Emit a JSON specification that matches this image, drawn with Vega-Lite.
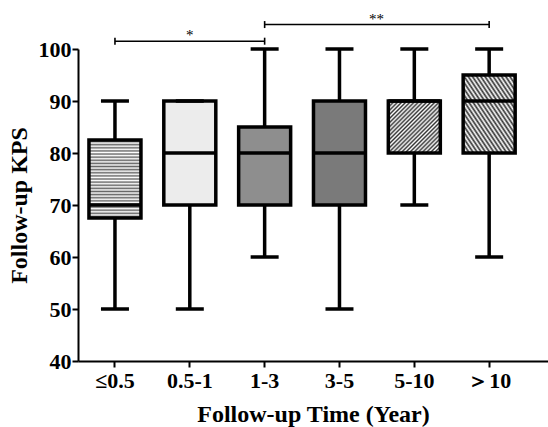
{
  "$schema": "https://vega.github.io/schema/vega-lite/v6.json",
  "width": 470,
  "height": 312,
  "autosize": {"type": "none"},
  "padding": {"left": 78, "top": 49, "right": 0, "bottom": 66},
  "background": "white",
  "config": {"view": {"stroke": null}, "font": "Liberation Serif"},
  "datasets": {
    "boxes": [
      {"cat": "≤0.5", "min": 50, "q1": 67.5, "median": 70, "q3": 82.5, "max": 90},
      {"cat": "0.5-1", "min": 50, "q1": 70, "median": 80, "q3": 90, "max": 90},
      {"cat": "1-3", "min": 60, "q1": 70, "median": 80, "q3": 85, "max": 100},
      {"cat": "3-5", "min": 50, "q1": 70, "median": 80, "q3": 90, "max": 100},
      {"cat": "5-10", "min": 70, "q1": 80, "median": 90, "q3": 90, "max": 100},
      {"cat": "＞10", "min": 60, "q1": 80, "median": 90, "q3": 95, "max": 100}
    ],
    "brackets": [
      {"from": "≤0.5", "to": "1-3", "y": 101.5, "label": "*"},
      {"from": "1-3", "to": "＞10", "y": 104.7, "label": "**"}
    ]
  },
  "layer": [
    {
      "data": {"name": "boxes"},
      "mark": {"type": "rule", "color": "black", "strokeWidth": 3.5},
      "encoding": {
        "x": {
          "field": "cat", "type": "nominal",
          "scale": {"domain": ["≤0.5", "0.5-1", "1-3", "3-5", "5-10", "＞10"], "paddingInner": 0.3, "paddingOuter": 0.29, "align": 0.248},
          "axis": {
            "title": "Follow-up Time (Year)", "labelAngle": 0,
            "labelFont": "Liberation Serif", "labelFontSize": 22, "labelFontWeight": "bold", "labelColor": "black", "labelPadding": 3,
            "titleFont": "Liberation Serif", "titleFontSize": 24, "titleFontWeight": "bold", "titleColor": "black", "titlePadding": 11,
            "tickSize": 6, "tickWidth": 2, "tickColor": "black", "domainWidth": 2, "domainColor": "black", "grid": false
          }
        },
        "y": {
          "field": "min", "type": "quantitative",
          "scale": {"domain": [40, 100], "nice": false, "zero": false},
          "axis": {
            "title": "Follow-up KPS", "values": [40, 50, 60, 70, 80, 90, 100],
            "labelFont": "Liberation Serif", "labelFontSize": 22, "labelFontWeight": "bold", "labelColor": "black", "labelPadding": 1,
            "titleFont": "Liberation Serif", "titleFontSize": 24, "titleFontWeight": "bold", "titleColor": "black", "titlePadding": 7,
            "tickSize": 6, "tickWidth": 2, "tickColor": "black", "domainWidth": 2, "domainColor": "black", "grid": false
          }
        },
        "y2": {"field": "max"}
      }
    },
    {
      "data": {"name": "boxes"},
      "mark": {"type": "bar", "size": 52, "stroke": "black", "strokeWidth": 3.5, "opacity": 1},
      "encoding": {
        "x": {"field": "cat", "type": "nominal"},
        "y": {"field": "q1", "type": "quantitative"},
        "y2": {"field": "q3"},
        "fill": {
          "condition": [
            {"test": "datum.cat === '≤0.5'", "value": {"gradient": "linear", "x1": 0, "y1": 0, "x2": 0, "y2": 1, "stops": [
              {"offset": 0, "color": "#fff"}, {"offset": 0.02, "color": "#666"}, {"offset": 0.04, "color": "#fff"}, {"offset": 0.06, "color": "#666"}, {"offset": 0.08, "color": "#fff"}, {"offset": 0.1, "color": "#666"}, {"offset": 0.12, "color": "#fff"}, {"offset": 0.14, "color": "#666"}, {"offset": 0.16, "color": "#fff"}, {"offset": 0.18, "color": "#666"}, {"offset": 0.2, "color": "#fff"}, {"offset": 0.22, "color": "#666"}, {"offset": 0.24, "color": "#fff"}, {"offset": 0.26, "color": "#666"}, {"offset": 0.28, "color": "#fff"}, {"offset": 0.3, "color": "#666"}, {"offset": 0.32, "color": "#fff"}, {"offset": 0.34, "color": "#666"}, {"offset": 0.36, "color": "#fff"}, {"offset": 0.38, "color": "#666"}, {"offset": 0.4, "color": "#fff"}, {"offset": 0.42, "color": "#666"}, {"offset": 0.44, "color": "#fff"}, {"offset": 0.46, "color": "#666"}, {"offset": 0.48, "color": "#fff"}, {"offset": 0.5, "color": "#666"}, {"offset": 0.52, "color": "#fff"}, {"offset": 0.54, "color": "#666"}, {"offset": 0.56, "color": "#fff"}, {"offset": 0.58, "color": "#666"}, {"offset": 0.6, "color": "#fff"}, {"offset": 0.62, "color": "#666"}, {"offset": 0.64, "color": "#fff"}, {"offset": 0.66, "color": "#666"}, {"offset": 0.68, "color": "#fff"}, {"offset": 0.7, "color": "#666"}, {"offset": 0.72, "color": "#fff"}, {"offset": 0.74, "color": "#666"}, {"offset": 0.76, "color": "#fff"}, {"offset": 0.78, "color": "#666"}, {"offset": 0.8, "color": "#fff"}, {"offset": 0.82, "color": "#666"}, {"offset": 0.84, "color": "#fff"}, {"offset": 0.86, "color": "#666"}, {"offset": 0.88, "color": "#fff"}, {"offset": 0.9, "color": "#666"}, {"offset": 0.92, "color": "#fff"}, {"offset": 0.94, "color": "#666"}, {"offset": 0.96, "color": "#fff"}, {"offset": 0.98, "color": "#666"}, {"offset": 1, "color": "#fff"}
            ]}},
            {"test": "datum.cat === '0.5-1'", "value": "#ececec"},
            {"test": "datum.cat === '1-3'", "value": "#8e8e8e"},
            {"test": "datum.cat === '3-5'", "value": "#7a7a7a"},
            {"test": "datum.cat === '5-10'", "value": {"gradient": "linear", "x1": 0, "y1": 0, "x2": 1, "y2": 1, "stops": [
              {"offset": 0, "color": "#fff"}, {"offset": 0.02, "color": "#333"}, {"offset": 0.04, "color": "#fff"}, {"offset": 0.06, "color": "#333"}, {"offset": 0.08, "color": "#fff"}, {"offset": 0.1, "color": "#333"}, {"offset": 0.12, "color": "#fff"}, {"offset": 0.14, "color": "#333"}, {"offset": 0.16, "color": "#fff"}, {"offset": 0.18, "color": "#333"}, {"offset": 0.2, "color": "#fff"}, {"offset": 0.22, "color": "#333"}, {"offset": 0.24, "color": "#fff"}, {"offset": 0.26, "color": "#333"}, {"offset": 0.28, "color": "#fff"}, {"offset": 0.3, "color": "#333"}, {"offset": 0.32, "color": "#fff"}, {"offset": 0.34, "color": "#333"}, {"offset": 0.36, "color": "#fff"}, {"offset": 0.38, "color": "#333"}, {"offset": 0.4, "color": "#fff"}, {"offset": 0.42, "color": "#333"}, {"offset": 0.44, "color": "#fff"}, {"offset": 0.46, "color": "#333"}, {"offset": 0.48, "color": "#fff"}, {"offset": 0.5, "color": "#333"}, {"offset": 0.52, "color": "#fff"}, {"offset": 0.54, "color": "#333"}, {"offset": 0.56, "color": "#fff"}, {"offset": 0.58, "color": "#333"}, {"offset": 0.6, "color": "#fff"}, {"offset": 0.62, "color": "#333"}, {"offset": 0.64, "color": "#fff"}, {"offset": 0.66, "color": "#333"}, {"offset": 0.68, "color": "#fff"}, {"offset": 0.7, "color": "#333"}, {"offset": 0.72, "color": "#fff"}, {"offset": 0.74, "color": "#333"}, {"offset": 0.76, "color": "#fff"}, {"offset": 0.78, "color": "#333"}, {"offset": 0.8, "color": "#fff"}, {"offset": 0.82, "color": "#333"}, {"offset": 0.84, "color": "#fff"}, {"offset": 0.86, "color": "#333"}, {"offset": 0.88, "color": "#fff"}, {"offset": 0.9, "color": "#333"}, {"offset": 0.92, "color": "#fff"}, {"offset": 0.94, "color": "#333"}, {"offset": 0.96, "color": "#fff"}, {"offset": 0.98, "color": "#333"}, {"offset": 1, "color": "#fff"}
            ]}}
          ],
          "value": {"gradient": "linear", "x1": 0, "y1": 1, "x2": 1, "y2": 0, "stops": [
            {"offset": 0, "color": "#fff"}, {"offset": 0.02, "color": "#333"}, {"offset": 0.04, "color": "#fff"}, {"offset": 0.06, "color": "#333"}, {"offset": 0.08, "color": "#fff"}, {"offset": 0.1, "color": "#333"}, {"offset": 0.12, "color": "#fff"}, {"offset": 0.14, "color": "#333"}, {"offset": 0.16, "color": "#fff"}, {"offset": 0.18, "color": "#333"}, {"offset": 0.2, "color": "#fff"}, {"offset": 0.22, "color": "#333"}, {"offset": 0.24, "color": "#fff"}, {"offset": 0.26, "color": "#333"}, {"offset": 0.28, "color": "#fff"}, {"offset": 0.3, "color": "#333"}, {"offset": 0.32, "color": "#fff"}, {"offset": 0.34, "color": "#333"}, {"offset": 0.36, "color": "#fff"}, {"offset": 0.38, "color": "#333"}, {"offset": 0.4, "color": "#fff"}, {"offset": 0.42, "color": "#333"}, {"offset": 0.44, "color": "#fff"}, {"offset": 0.46, "color": "#333"}, {"offset": 0.48, "color": "#fff"}, {"offset": 0.5, "color": "#333"}, {"offset": 0.52, "color": "#fff"}, {"offset": 0.54, "color": "#333"}, {"offset": 0.56, "color": "#fff"}, {"offset": 0.58, "color": "#333"}, {"offset": 0.6, "color": "#fff"}, {"offset": 0.62, "color": "#333"}, {"offset": 0.64, "color": "#fff"}, {"offset": 0.66, "color": "#333"}, {"offset": 0.68, "color": "#fff"}, {"offset": 0.7, "color": "#333"}, {"offset": 0.72, "color": "#fff"}, {"offset": 0.74, "color": "#333"}, {"offset": 0.76, "color": "#fff"}, {"offset": 0.78, "color": "#333"}, {"offset": 0.8, "color": "#fff"}, {"offset": 0.82, "color": "#333"}, {"offset": 0.84, "color": "#fff"}, {"offset": 0.86, "color": "#333"}, {"offset": 0.88, "color": "#fff"}, {"offset": 0.9, "color": "#333"}, {"offset": 0.92, "color": "#fff"}, {"offset": 0.94, "color": "#333"}, {"offset": 0.96, "color": "#fff"}, {"offset": 0.98, "color": "#333"}, {"offset": 1, "color": "#fff"}
          ]}
        }
      }
    },
    {
      "data": {"name": "boxes"},
      "mark": {"type": "tick", "size": 52, "thickness": 3.5, "color": "black", "opacity": 1},
      "encoding": {
        "x": {"field": "cat", "type": "nominal"},
        "y": {"field": "median", "type": "quantitative"}
      }
    },
    {
      "data": {"name": "boxes"},
      "mark": {"type": "tick", "size": 28, "thickness": 3.5, "color": "black", "opacity": 1},
      "encoding": {
        "x": {"field": "cat", "type": "nominal"},
        "y": {"field": "min", "type": "quantitative"}
      }
    },
    {
      "data": {"name": "boxes"},
      "mark": {"type": "tick", "size": 28, "thickness": 3.5, "color": "black", "opacity": 1},
      "encoding": {
        "x": {"field": "cat", "type": "nominal"},
        "y": {"field": "max", "type": "quantitative"}
      }
    },
    {
      "data": {"name": "brackets"},
      "mark": {"type": "rule", "color": "black", "strokeWidth": 1.6},
      "encoding": {
        "x": {"field": "from", "type": "nominal"},
        "x2": {"field": "to"},
        "y": {"field": "y", "type": "quantitative"}
      }
    },
    {
      "data": {"name": "brackets"},
      "mark": {"type": "rule", "color": "black", "strokeWidth": 1.6, "yOffset": -3.5, "y2Offset": 3.5},
      "encoding": {
        "x": {"field": "from", "type": "nominal"},
        "y": {"field": "y", "type": "quantitative"},
        "y2": {"field": "y"}
      }
    },
    {
      "data": {"name": "brackets"},
      "mark": {"type": "rule", "color": "black", "strokeWidth": 1.6, "yOffset": -3.5, "y2Offset": 3.5},
      "encoding": {
        "x": {"field": "to", "type": "nominal"},
        "y": {"field": "y", "type": "quantitative"},
        "y2": {"field": "y"}
      }
    },
    {
      "data": {"name": "brackets"},
      "transform": [{"filter": "datum.label === '*'"}],
      "mark": {"type": "text", "font": "Liberation Serif", "fontSize": 15, "fill": "black", "baseline": "alphabetic", "dy": -1},
      "encoding": {
        "x": {"datum": "0.5-1", "type": "nominal"},
        "y": {"field": "y", "type": "quantitative"},
        "text": {"field": "label"}
      }
    },
    {
      "data": {"name": "brackets"},
      "transform": [{"filter": "datum.label === '**'"}],
      "mark": {"type": "text", "font": "Liberation Serif", "fontSize": 15, "fill": "black", "baseline": "alphabetic", "dy": -1, "dx": 37},
      "encoding": {
        "x": {"datum": "3-5", "type": "nominal"},
        "y": {"field": "y", "type": "quantitative"},
        "text": {"field": "label"}
      }
    }
  ]
}
